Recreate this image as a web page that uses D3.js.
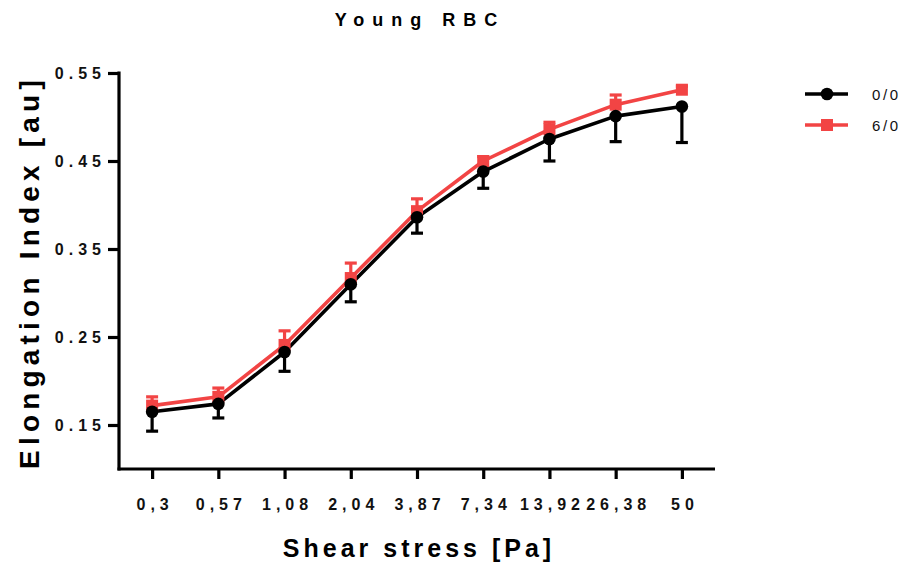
<!DOCTYPE html>
<html>
<head>
<meta charset="utf-8">
<script src="https://cdn.jsdelivr.net/npm/d3@7"></script>
<style>
  html, body { margin: 0; padding: 0; background: #fff; }
  svg { display: block; font-family: "Liberation Sans", Arial, sans-serif; }
</style>
</head>
<body>
<svg id="chart" width="902" height="565"></svg>
<script>
// Shear stress steps (Pa), as labelled on the x axis
const categories = ["0,3", "0,57", "1,08", "2,04", "3,87", "7,34", "13,92", "26,38", "50"];

// Mean elongation index per group
const ei00 = [0.165, 0.174, 0.233, 0.310, 0.386, 0.438, 0.475, 0.501, 0.512];
const ei60 = [0.172, 0.182, 0.241, 0.317, 0.393, 0.450, 0.486, 0.514, 0.531];

// Error bar lengths (black drawn downward, red drawn upward)
const err00 = [0.022, 0.016, 0.022, 0.020, 0.018, 0.019, 0.025, 0.029, 0.041];
const err60 = [0.010, 0.010, 0.016, 0.017, 0.014, 0.005, 0.008, 0.011, 0.004];

const yTicks = [0.15, 0.25, 0.35, 0.45, 0.55];
const seriesNames = ["0/0", "6/0"];

const BLACK = "#000000";
const RED = "#F24444";

const svg = d3.select("#chart");

const x = d3.scalePoint().domain(categories).range([119, 715]).padding(0.5);
const y = d3.scaleLinear().domain([0.10, 0.55]).range([469, 73]);

// Axes
const tickLS = 5;
const yAxis = d3.axisLeft(y).tickValues(yTicks).tickSize(11).tickSizeOuter(0)
  .tickFormat(d3.format(".2f"));
const gy = svg.append("g").attr("transform", "translate(119,0)").call(yAxis);
gy.select(".domain").attr("stroke-width", 3.2).attr("d", `M0,${y(0.55) - 1.5}V${y(0.10) + 1.5}`);
gy.selectAll(".tick line").attr("stroke-width", 3.2);
gy.selectAll(".tick text")
  .attr("font-size", 16).attr("font-weight", "bold").attr("fill", "#111")
  .attr("letter-spacing", tickLS + "px").attr("dy", "0.36em").attr("x", -18 + tickLS);

const xAxis = d3.axisBottom(x).tickSize(10).tickSizeOuter(0);
const gx = svg.append("g").attr("transform", "translate(0,469)").call(xAxis);
gx.select(".domain").attr("stroke-width", 3.2).attr("d", "M117.5,0H715");
gx.selectAll(".tick line").attr("stroke-width", 3.2);
gx.selectAll(".tick text")
  .attr("font-size", 16).attr("font-weight", "bold").attr("fill", "#111")
  .attr("letter-spacing", tickLS + "px").attr("y", 41).attr("dy", null)
  .attr("dx", tickLS / 2);

// Title and axis titles
svg.append("text").attr("x", 416 + 4).attr("y", 26).attr("text-anchor", "middle")
  .attr("font-size", 18).attr("font-weight", "bold").attr("letter-spacing", "8px")
  .text("Young RBC");

svg.append("text").attr("x", 417 + 2).attr("y", 557).attr("text-anchor", "middle")
  .attr("font-size", 25).attr("font-weight", "bold").attr("letter-spacing", "4px")
  .text("Shear stress [Pa]");

svg.append("text").attr("transform", "translate(39,272) rotate(-90)")
  .attr("text-anchor", "middle")
  .attr("font-size", 28).attr("font-weight", "bold").attr("letter-spacing", "5.2px")
  .text("Elongation Index [au]");

// Series drawing
const line = d3.line().x((d, i) => x(categories[i])).y(d => y(d));
const capW = 12;

function drawErrors(vals, errs, dir, color) {
  const g = svg.append("g").attr("stroke", color).attr("stroke-width", 3.2);
  vals.forEach((v, i) => {
    const cx = x(categories[i]);
    const y1 = y(v), y2 = y(v + dir * errs[i]);
    g.append("line").attr("x1", cx).attr("x2", cx).attr("y1", y1).attr("y2", y2);
    g.append("line").attr("x1", cx - capW / 2).attr("x2", cx + capW / 2).attr("y1", y2).attr("y2", y2);
  });
}

// Red group (6/0)
drawErrors(ei60, err60, +1, RED);
// Black group (0/0)
drawErrors(ei00, err00, -1, BLACK);

svg.append("path").datum(ei60).attr("d", line).attr("fill", "none")
  .attr("stroke", RED).attr("stroke-width", 3.6).attr("stroke-linejoin", "round");
svg.append("path").datum(ei00).attr("d", line).attr("fill", "none")
  .attr("stroke", BLACK).attr("stroke-width", 3.6).attr("stroke-linejoin", "round");

svg.append("g").selectAll("rect").data(ei60).join("rect")
  .attr("x", (d, i) => x(categories[i]) - 6).attr("y", d => y(d) - 6)
  .attr("width", 12).attr("height", 12).attr("fill", RED);
svg.append("g").selectAll("circle").data(ei00).join("circle")
  .attr("cx", (d, i) => x(categories[i])).attr("cy", d => y(d)).attr("r", 6.3)
  .attr("fill", BLACK);

// Legend
const legend = svg.append("g");
seriesNames.forEach((name, i) => {
  const ly = 94 + i * 31;
  const color = i === 0 ? BLACK : RED;
  legend.append("line").attr("x1", 805).attr("x2", 848).attr("y1", ly).attr("y2", ly)
    .attr("stroke", color).attr("stroke-width", 3.6);
  if (i === 0) {
    legend.append("circle").attr("cx", 827).attr("cy", ly).attr("r", 6.3).attr("fill", color);
  } else {
    legend.append("rect").attr("x", 821).attr("y", ly - 6).attr("width", 12).attr("height", 12).attr("fill", color);
  }
  legend.append("text").attr("x", 872).attr("y", ly + 5.5).attr("font-size", 15)
    .attr("letter-spacing", "2.6px").attr("fill", "#111").text(name);
});
</script>
</body>
</html>
